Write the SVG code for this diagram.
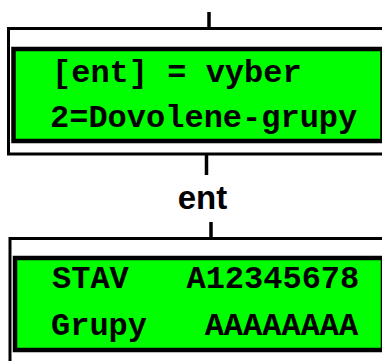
<svg xmlns="http://www.w3.org/2000/svg" width="382" height="361" viewBox="0 0 382 361">
  <style>
    .outer { fill: #ffffff; stroke: #000000; stroke-width: 3; }
    .lcd { fill: #00ff00; stroke: #000000; stroke-width: 4.5; }
    .mono { font-family: "Liberation Mono", "Courier New", monospace; font-weight: bold; font-size: 32px; fill: #000000; white-space: pre; }
    .lbl { font-family: "Liberation Sans", Arial, sans-serif; font-weight: bold; font-size: 33px; fill: #000000; text-anchor: middle; }
    .conn { stroke: #000000; stroke-width: 3.5; fill: none; }
  </style>
  <rect width="382" height="361" fill="#ffffff"/>
  <g id="connectors">
    <line class="conn" x1="209" y1="12" x2="209" y2="28"/>
    <line class="conn" x1="206.5" y1="155" x2="206.5" y2="175"/>
    <line class="conn" x1="211" y1="222" x2="211" y2="238"/>
    <text class="lbl" x="202.5" y="209">ent</text>
  </g>
  <g id="node-menu">
    <rect class="outer" x="8.5" y="28.5" width="400" height="125.5"/>
    <rect class="lcd" x="13.5" y="49" width="369" height="92"/>
    <text class="mono" x="52" y="82">[ent] = vyber</text>
    <text class="mono" x="50" y="127">2=Dovolene-grupy</text>
  </g>
  <g id="node-status">
    <rect class="outer" x="10" y="238.5" width="400" height="140"/>
    <rect class="lcd" x="15" y="258" width="368" height="92"/>
    <text class="mono" x="52" y="288">STAV   A12345678</text>
    <text class="mono" x="51" y="335">Grupy   AAAAAAAA</text>
  </g>
</svg>
